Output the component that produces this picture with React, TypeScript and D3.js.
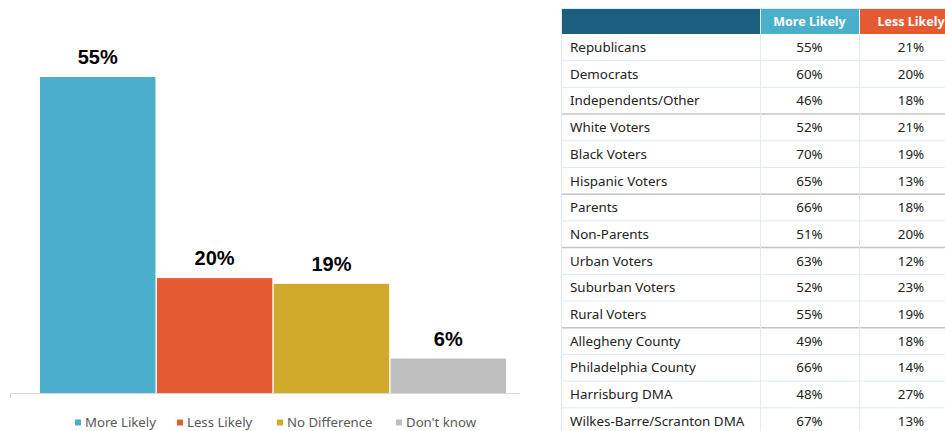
import React from "react";
import * as d3 from "d3";

const categories = ["More Likely", "Less Likely", "No Difference", "Don't know"];
const values = [55, 20, 19, 6];
const barColors = ["#4BAFCB", "#E35A33", "#D1AA2C", "#BFBFBF"];

const tableHeaders = ["", "More Likely", "Less Likely"];
const headerColors = ["#1B5E80", "#4BAFCB", "#E35A33"];
const rowLabels = [
  "Republicans",
  "Democrats",
  "Independents/Other",
  "White Voters",
  "Black Voters",
  "Hispanic Voters",
  "Parents",
  "Non-Parents",
  "Urban Voters",
  "Suburban Voters",
  "Rural Voters",
  "Allegheny County",
  "Philadelphia County",
  "Harrisburg DMA",
  "Wilkes-Barre/Scranton DMA",
];
const moreLikely = [55, 60, 46, 52, 70, 65, 66, 51, 63, 52, 55, 49, 66, 48, 67];
const lessLikely = [21, 20, 18, 21, 19, 13, 18, 20, 12, 23, 19, 18, 14, 27, 13];
// group ends after these row indices
const groupBreaks = [2, 5, 7, 10];

const W = 945;
const H = 431;
const FONT = "'Noto Sans', 'Open Sans', sans-serif";

export default function App() {
  const x = d3.scaleBand<string>().domain(categories).range([40, 506]).paddingInner(0.012);
  const y = d3.scaleLinear().domain([0, 60]).range([393, 48.3]);

  const colX = [561, 760, 859, 963];
  const rowY = d3
    .scaleBand<string>()
    .domain(rowLabels)
    .range([34, 34 + rowLabels.length * 26.7]);
  const headerTop = 8;
  const headerBottom = 34;

  return (
    <svg
      width={W}
      height={H}
      style={{ position: "absolute", left: 0, top: 0, background: "#fff" }}
    >
      {/* bar chart */}
      {categories.map((c, i) => (
        <g key={c}>
          <rect
            x={x(c)!}
            y={y(values[i])}
            width={x.bandwidth()}
            height={y(0) - y(values[i])}
            fill={barColors[i]}
          />
          <text
            x={x(c)! + x.bandwidth() / 2}
            y={y(values[i]) - 13}
            textAnchor="middle"
            fontFamily="'Liberation Sans', Arial, sans-serif"
            fontWeight="bold"
            fontSize={20}
            fill="#000"
          >
            {values[i]}%
          </text>
        </g>
      ))}
      <line x1={10} x2={520} y1={y(0) + 0.5} y2={y(0) + 0.5} stroke="#D9D9D9" strokeWidth={1} />
      <line x1={10.5} x2={10.5} y1={y(0)} y2={398} stroke="#D9D9D9" strokeWidth={1} />

      {/* legend */}
      {(() => {
        const legendX = [75, 177, 277, 396];
        return categories.map((c, i) => (
          <g key={"lg" + c}>
            <rect x={legendX[i]} y={419.5} width={6} height={6} fill={barColors[i]} />
            <text
              x={legendX[i] + 10}
              y={427}
              fontFamily={FONT}
              fontSize={13.2}
              fill="#595959"
            >
              {c}
            </text>
          </g>
        ));
      })()}

      {/* table header */}
      {tableHeaders.map((h, i) => (
        <g key={"h" + i}>
          <rect
            x={colX[i]}
            y={headerTop}
            width={colX[i + 1] - colX[i]}
            height={headerBottom - headerTop}
            fill={headerColors[i]}
          />
          {h && (
            <text
              x={(colX[i] + colX[i + 1]) / 2}
              y={(headerTop + headerBottom) / 2 + 4.5}
              textAnchor="middle"
              fontFamily={FONT}
              fontWeight="bold"
              fontSize={12.5}
              fill="#fff"
            >
              {h}
            </text>
          )}
        </g>
      ))}

      {/* table rows */}
      {rowLabels.map((r, i) => {
        const y0 = rowY(r)!;
        const yc = y0 + rowY.bandwidth() / 2 + 4.7;
        return (
          <g key={r}>
            <text x={570} y={yc} fontFamily={FONT} fontSize={13.4} fill="#222">
              {r}
            </text>
            <text
              x={(colX[1] + colX[2]) / 2}
              y={yc}
              textAnchor="middle"
              fontFamily={FONT}
              fontSize={13.4}
              fill="#222"
            >
              {moreLikely[i]}%
            </text>
            <text
              x={(colX[2] + colX[3]) / 2}
              y={yc}
              textAnchor="middle"
              fontFamily={FONT}
              fontSize={13.4}
              fill="#222"
            >
              {lessLikely[i]}%
            </text>
          </g>
        );
      })}

      {/* grid lines */}
      {rowLabels.map((r, i) => {
        const yb = rowY(r)! + rowY.bandwidth();
        const isBreak = groupBreaks.includes(i);
        return (
          <line
            key={"gl" + r}
            x1={colX[0]}
            x2={W}
            y1={yb}
            y2={yb}
            stroke={isBreak ? "#C4C4C4" : "#DDEBF7"}
            strokeWidth={isBreak ? 1.5 : 1}
          />
        );
      })}
      {colX.slice(0, 3).map((cx, i) => (
        <line
          key={"vl" + i}
          x1={cx + 0.5}
          x2={cx + 0.5}
          y1={headerTop}
          y2={H}
          stroke="#DDEBF7"
          strokeWidth={1}
        />
      ))}
      <line x1={colX[0]} x2={W} y1={headerTop + 0.5} y2={headerTop + 0.5} stroke="#DDEBF7" strokeWidth={1} />
    </svg>
  );
}
